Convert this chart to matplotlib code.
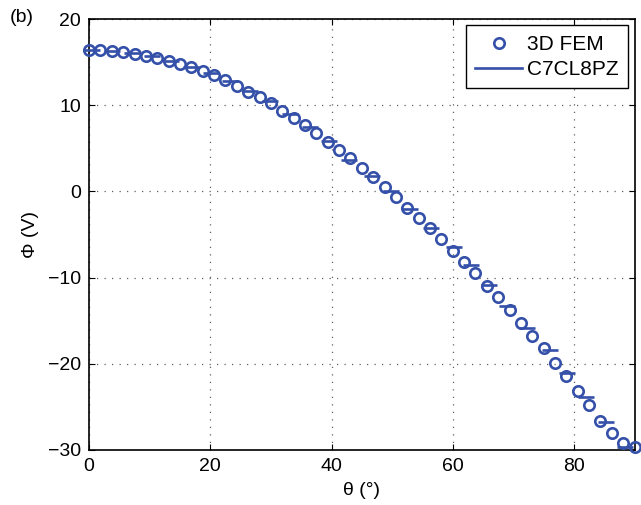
import matplotlib
matplotlib.use("Agg")
import matplotlib.pyplot as plt
from matplotlib.lines import Line2D

plt.rcParams['font.family'] = ['Liberation Sans', 'DejaVu Sans']

# 3D FEM points (theta in degrees, Phi in volts)
theta_fem = [0, 1.875, 3.75, 5.625, 7.5, 9.375, 11.25, 13.125, 15, 16.875,
             18.75, 20.625, 22.5, 24.375, 26.25, 28.125, 30, 31.875, 33.75, 35.625,
             37.5, 39.375, 41.25, 43.125, 45, 46.875, 48.75, 50.625, 52.5, 54.375,
             56.25, 58.125, 60, 61.875, 63.75, 65.625, 67.5, 69.375, 71.25, 73.125,
             75, 76.875, 78.75, 80.625, 82.5, 84.375, 86.25, 88.125, 90]
phi_fem = [16.4, 16.4, 16.3, 16.2, 16.0, 15.7, 15.5, 15.2, 14.8, 14.4,
           14.0, 13.5, 12.9, 12.3, 11.6, 10.95, 10.25, 9.33, 8.55, 7.7,
           6.74, 5.77, 4.8, 3.84, 2.75, 1.67, 0.51, -0.65, -1.89, -3.05,
           -4.28, -5.49, -6.95, -8.2, -9.45, -11.0, -12.3, -13.8, -15.3, -16.8,
           -18.2, -19.9, -21.4, -23.1, -24.8, -26.6, -28.0, -29.2, -29.7]

# C7CL8PZ model (drawn as short horizontal pieces)
theta_model = [0.5, 3.8, 7.0, 10.3, 13.5, 16.8, 20.1, 23.3, 26.6, 29.8,
               33.1, 36.4, 39.6, 42.9, 46.6, 49.8, 53.0, 56.4, 60.2, 63.0,
               65.9, 68.9, 72.2, 76.0, 78.8, 82.0, 85.3, 88.5]
phi_model = [16.4, 16.3, 16.1, 15.7, 15.2, 14.5, 13.8, 12.8, 11.7, 10.5,
             9.0, 7.5, 5.9, 3.6, 1.8, 0.0, -2.0, -4.2, -6.4, -8.5,
             -10.9, -13.3, -15.8, -18.4, -21.1, -23.9, -26.8, -29.6]

blue = '#3450a8'

fig = plt.figure(figsize=(6.41, 5.05), dpi=100)
ax = fig.add_axes([0.139, 0.109, 0.851, 0.853])

ax.plot(theta_fem, phi_fem, ls='none', marker='o', ms=7.5, mfc='none',
        mec=blue, mew=1.9, clip_on=False, zorder=3)
ax.plot(theta_model, phi_model, ls='none', marker='_', ms=12,
        mec=blue, mew=1.9, clip_on=False, zorder=3)

ax.set_xlim(0, 90)
ax.set_ylim(-30, 20)
ax.set_xticks([0, 20, 40, 60, 80])
ax.set_yticks([-30, -20, -10, 0, 10, 20])
ax.set_yticklabels(['\u221230', '\u221220', '\u221210', '0', '10', '20'])
ax.grid(True, ls=(0, (1, 5)), color='#606060', lw=0.9)
ax.tick_params(direction='in', top=True, right=True, labelsize=14, length=4, pad=6)
for s in ax.spines.values():
    s.set_linewidth(1.2)

ax.set_xlabel('\u03b8 (\u00b0)', fontsize=14, labelpad=5)
ax.set_ylabel('\u03a6 (V)', fontsize=14, labelpad=6)
fig.text(0.015, 0.965, '(b)', fontsize=14, va='center', ha='left')

handles = [Line2D([], [], ls='none', marker='o', ms=7.5, mfc='none', mec=blue, mew=1.9),
           Line2D([], [], color=blue, lw=1.9)]
leg = ax.legend(handles, ['3D FEM', 'C7CL8PZ'], loc='upper right', fontsize=15,
                fancybox=False, edgecolor='black', framealpha=1,
                handlelength=2.25, handletextpad=0.25, borderpad=0.45,
                borderaxespad=0.3, labelspacing=0.3)
leg.get_frame().set_linewidth(1.0)

fig.savefig('out.png', dpi=100)
